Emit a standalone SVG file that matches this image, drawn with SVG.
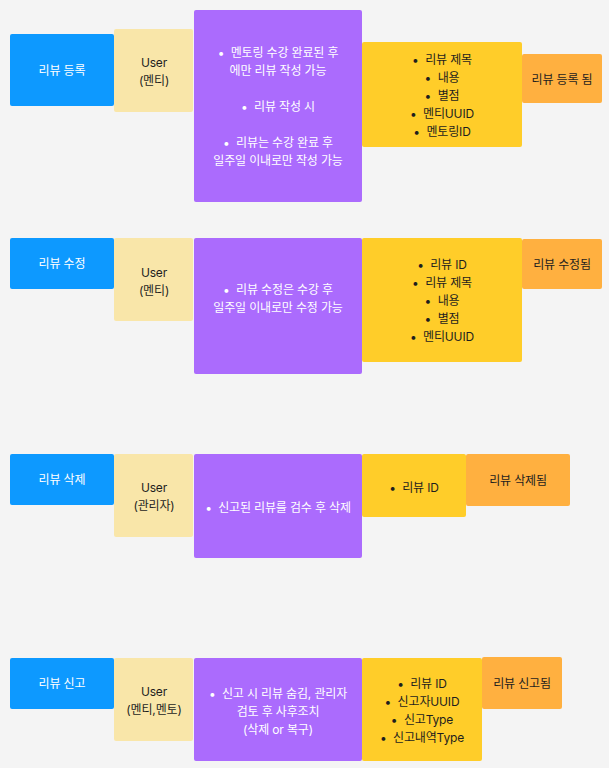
<svg xmlns="http://www.w3.org/2000/svg" width="609" height="768" viewBox="0 0 609 768">
<style>
.bg{fill:#f4f4f4}
.blue{fill:#0d99ff}
.beige{fill:#f9e6a9}
.purple{fill:#ab6bfd}
.yellow{fill:#ffcd29}
.orange{fill:#ffb040}
text{font-family:Inter,"Noto Sans CJK KR",sans-serif;font-size:12px;letter-spacing:-0.15px;text-anchor:middle;dominant-baseline:central}
.w{fill:#ffffff}
.d{fill:#1e1e1e}
</style>
<rect class="bg" x="0" y="0" width="609" height="768"/>
<g id="connectors"/>
<!-- Row 1 -->
<g id="reg-action"><rect class="blue" x="10" y="34" width="104" height="72" rx="2"/><text class="w" x="62" y="70">리뷰 등록</text></g>
<g id="reg-user"><rect class="beige" x="114" y="29" width="79" height="83" rx="2"/><text class="d" x="154" y="62">User</text><text class="d" x="154" y="80">(멘티)</text></g>
<g id="reg-rule"><rect class="purple" x="194" y="10" width="168" height="192" rx="2"/>
<text class="w" x="278" y="52">•&#160;&#160;멘토링 수강 완료된 후</text><text class="w" x="278" y="70">에만 리뷰 작성 가능</text>
<text class="w" x="278" y="106">•&#160;&#160;리뷰 작성 시</text>
<text class="w" x="278" y="142">•&#160;&#160;리뷰는 수강 완료 후</text><text class="w" x="278" y="160">일주일 이내로만 작성 가능</text></g>
<g id="reg-data"><rect class="yellow" x="362" y="42" width="160" height="105" rx="2"/>
<text class="d" x="442" y="59">•&#160;&#160;리뷰 제목</text><text class="d" x="442" y="77">•&#160;&#160;내용</text><text class="d" x="442" y="95">•&#160;&#160;별점</text><text class="d" x="442" y="113">•&#160;&#160;멘티UUID</text><text class="d" x="442" y="131">•&#160;&#160;멘토링ID</text></g>
<g id="reg-result"><rect class="orange" x="522" y="54" width="80" height="49" rx="2"/><text class="d" x="562" y="79">리뷰 등록 됨</text></g>
<!-- Row 2 -->
<g id="edit-action"><rect class="blue" x="10" y="238" width="104" height="51" rx="2"/><text class="w" x="62" y="263">리뷰 수정</text></g>
<g id="edit-user"><rect class="beige" x="114" y="238" width="79" height="83" rx="2"/><text class="d" x="154" y="272">User</text><text class="d" x="154" y="290">(멘티)</text></g>
<g id="edit-rule"><rect class="purple" x="194" y="238" width="168" height="136" rx="2"/>
<text class="w" x="278" y="289">•&#160;&#160;리뷰 수정은 수강 후</text><text class="w" x="278" y="307">일주일 이내로만 수정 가능</text></g>
<g id="edit-data"><rect class="yellow" x="362" y="238" width="160" height="124" rx="2"/>
<text class="d" x="442" y="264">•&#160;&#160;리뷰 ID</text><text class="d" x="442" y="282">•&#160;&#160;리뷰 제목</text><text class="d" x="442" y="300">•&#160;&#160;내용</text><text class="d" x="442" y="318">•&#160;&#160;별점</text><text class="d" x="442" y="336">•&#160;&#160;멘티UUID</text></g>
<g id="edit-result"><rect class="orange" x="522" y="239" width="80" height="50" rx="2"/><text class="d" x="562" y="264">리뷰 수정됨</text></g>
<!-- Row 3 -->
<g id="del-action"><rect class="blue" x="10" y="454" width="104" height="51" rx="2"/><text class="w" x="62" y="479">리뷰 삭제</text></g>
<g id="del-user"><rect class="beige" x="114" y="454" width="79" height="83" rx="2"/><text class="d" x="154" y="487">User</text><text class="d" x="154" y="505">(관리자)</text></g>
<g id="del-rule"><rect class="purple" x="194" y="454" width="168" height="104" rx="2"/>
<text class="w" x="278" y="507">•&#160;&#160;신고된 리뷰를 검수 후 삭제</text></g>
<g id="del-data"><rect class="yellow" x="362" y="454" width="104" height="63" rx="2"/>
<text class="d" x="414" y="487">•&#160;&#160;리뷰 ID</text></g>
<g id="del-result"><rect class="orange" x="466" y="454" width="104" height="52" rx="2"/><text class="d" x="518" y="480">리뷰 삭제됨</text></g>
<!-- Row 4 -->
<g id="report-action"><rect class="blue" x="10" y="658" width="104" height="51" rx="2"/><text class="w" x="62" y="683">리뷰 신고</text></g>
<g id="report-user"><rect class="beige" x="114" y="658" width="79" height="83" rx="2"/><text class="d" x="154" y="691">User</text><text class="d" x="154" y="709">(멘티,멘토)</text></g>
<g id="report-rule"><rect class="purple" x="194" y="658" width="168" height="103" rx="2"/>
<text class="w" x="278" y="693">•&#160;&#160;신고 시 리뷰 숨김, 관리자</text><text class="w" x="278" y="711">검토 후 사후조치</text><text class="w" x="278" y="729">(삭제 or 복구)</text></g>
<g id="report-data"><rect class="yellow" x="362" y="658" width="120" height="103" rx="2"/>
<text class="d" x="422" y="683">•&#160;&#160;리뷰 ID</text><text class="d" x="422" y="701">•&#160;&#160;신고자UUID</text><text class="d" x="422" y="719">•&#160;&#160;신고Type</text><text class="d" x="422" y="737">•&#160;&#160;신고내역Type</text></g>
<g id="report-result"><rect class="orange" x="482" y="657" width="80" height="52" rx="2"/><text class="d" x="522" y="683">리뷰 신고됨</text></g>
</svg>
